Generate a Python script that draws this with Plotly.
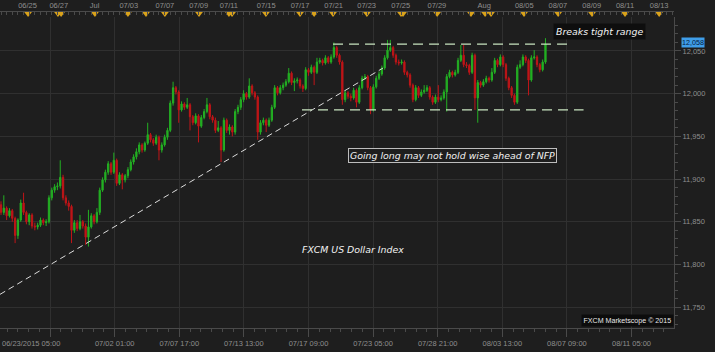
import plotly.graph_objects as go

# ---------------- data (4-hour candles, FXCM US Dollar Index) ----------------
first_open = 11870
closes = [11861, 11866, 11857, 11863, 11854, 11834, 11852, 11872, 11861, 11850,
          11858, 11845, 11844, 11846, 11852, 11849, 11850, 11878, 11887, 11891,
          11892, 11902, 11878, 11872, 11868, 11840, 11849, 11842, 11850, 11845,
          11832, 11844, 11857, 11850, 11861, 11887, 11899, 11908, 11918, 11908,
          11922, 11895, 11905, 11899, 11904, 11911, 11920, 11926, 11932, 11940,
          11934, 11942, 11952, 11946, 11942, 11949, 11934, 11940, 11949, 11957,
          11989, 12007, 12002, 11981, 11988, 11984, 11987, 11973, 11966, 11974,
          11962, 11972, 11979, 11987, 11973, 11969, 11957, 11960, 11934, 11969,
          11957, 11961, 11955, 11979, 11984, 11993, 12000, 11996, 12009, 12001,
          11996, 11955, 11966, 11969, 11963, 11969, 11984, 12007, 12001, 12007,
          12010, 12014, 12024, 12013, 12015, 12016, 12009, 12006, 12028, 12025,
          12031, 12025, 12037, 12039, 12036, 12042, 12037, 12043, 12054, 12045,
          12037, 11993, 12001, 11997, 11995, 12004, 11990, 12007, 12018, 12020,
          12007, 11981, 12008, 12018, 12023, 12030, 12042, 12051, 12054, 12045,
          12037, 12036, 12037, 12025, 12022, 12010, 11993, 12007, 11998, 12002,
          12004, 12007, 11996, 11990, 11996, 11993, 11995, 12002, 12020, 12025,
          12022, 12025, 12039, 12045, 12034, 12033, 12025, 12045, 11995, 12013,
          12010, 12014, 12018, 12016, 12025, 12039, 12034, 12043, 12034, 12018,
          12007, 11998, 11990, 12031, 12034, 12043, 12039, 12016, 12042, 12043,
          12034, 12028, 12037, 12058]
highs = [11874, 11881, 11868, 11866, 11865, 11856, 11854, 11876, 11884, 11863,
         11860, 11860, 11849, 11849, 11855, 11854, 11853, 11881, 11890, 11894,
         11896, 11922, 11905, 11881, 11875, 11870, 11852, 11852, 11858, 11852,
         11848, 11864, 11860, 11859, 11866, 11890, 11902, 11911, 11921, 11920,
         11931, 11924, 11908, 11907, 11906, 11914, 11923, 11929, 11936, 11943,
         11942, 11944, 11966, 11954, 11948, 11952, 11951, 11943, 11952, 11960,
         11992, 12014, 12009, 12004, 11991, 11990, 11995, 11989, 11975, 11977,
         11976, 11975, 11982, 11995, 11989, 11975, 11972, 11968, 11962, 11972,
         11971, 11964, 11963, 11982, 11987, 11996, 12004, 12002, 12018, 12011,
         12003, 11998, 11969, 11972, 11971, 11972, 11987, 12010, 12009, 12010,
         12013, 12017, 12030, 12026, 12018, 12019, 12018, 12011, 12031, 12030,
         12034, 12033, 12042, 12042, 12041, 12045, 12044, 12046, 12060, 12056,
         12047, 12039, 12004, 12003, 12000, 12007, 12006, 12010, 12021, 12023,
         12022, 12009, 12011, 12021, 12026, 12033, 12045, 12063, 12063, 12056,
         12047, 12040, 12040, 12039, 12027, 12024, 12012, 12010, 12009, 12005,
         12010, 12010, 12009, 11998, 11999, 12010, 11998, 12005, 12023, 12028,
         12027, 12028, 12042, 12057, 12057, 12037, 12035, 12048, 12047, 12016,
         12015, 12017, 12021, 12020, 12030, 12042, 12041, 12046, 12045, 12036,
         12020, 12009, 12000, 12034, 12039, 12046, 12045, 12041, 12045, 12051,
         12045, 12036, 12040, 12065]
lows = [11858, 11858, 11852, 11855, 11850, 11825, 11830, 11850, 11858, 11847,
        11846, 11842, 11840, 11841, 11844, 11846, 11845, 11848, 11875, 11884,
        11887, 11889, 11875, 11869, 11863, 11825, 11837, 11839, 11840, 11842,
        11823, 11821, 11842, 11847, 11848, 11858, 11885, 11896, 11905, 11905,
        11906, 11892, 11893, 11888, 11896, 11901, 11909, 11917, 11923, 11929,
        11931, 11932, 11940, 11943, 11939, 11940, 11922, 11931, 11938, 11946,
        11955, 11986, 11999, 11966, 11979, 11981, 11982, 11957, 11963, 11964,
        11943, 11960, 11970, 11977, 11970, 11966, 11954, 11955, 11920, 11932,
        11954, 11952, 11950, 11952, 11976, 11981, 11990, 11993, 11994, 11998,
        11993, 11946, 11952, 11963, 11955, 11961, 11967, 11982, 11998, 11999,
        12004, 12008, 12012, 12010, 12003, 12012, 12006, 12002, 12004, 12021,
        12023, 12010, 12023, 12035, 12033, 12034, 12035, 12035, 12041, 12042,
        12034, 11987, 11990, 11994, 11991, 11993, 11984, 11988, 12005, 12016,
        12004, 11976, 11979, 12006, 12016, 12021, 12028, 12040, 12049, 12042,
        12034, 12033, 12034, 12022, 12019, 12007, 11990, 11991, 11995, 11996,
        12000, 12002, 11993, 11987, 11988, 11990, 11991, 11993, 11979, 12018,
        12019, 12020, 12023, 12037, 12031, 12030, 12022, 12023, 11981, 11966,
        12007, 12008, 12012, 12013, 12014, 12023, 12031, 12032, 12031, 12015,
        12004, 11995, 11987, 11988, 12029, 12032, 12036, 11998, 12014, 12040,
        12031, 12025, 12026, 12035]
opens = [first_open] + closes[:-1]
bars = list(range(len(closes)))

y_tick_values = [11750, 11800, 11850, 11900, 11950, 12000, 12050]
bottom_tick_labels = ["", "07/02 01:00", "07/07 17:00", "07/13 13:00", "07/17 09:00",
                      "07/23 05:00", "07/28 21:00", "08/03 13:00", "08/07 09:00",
                      "08/11 05:00"]
first_bottom_label = "06/23/2015 05:00"
top_labels = ["06/25", "06/27", "Jul", "07/03", "07/07", "07/09", "07/11", "07/15",
              "07/17", "07/21", "07/23", "07/25", "07/29", "Aug", "08/05", "08/07",
              "08/09", "08/11", "08/13"]
top_label_bars = [9.4, 20.5, 33.2, 45.3, 58.1, 70.1, 80.8, 94.0, 106.0, 117.9,
                  129.6, 141.7, 154.5, 171.3, 185.5, 197.4, 209.4, 221.2, 233.3]
event_bars = [9.6, 20.2, 21.3, 33.3, 45.0, 51.4, 58.1, 70.2, 80.8, 81.9, 93.9,
              106.0, 111.0, 117.7, 129.7, 141.8, 142.5, 154.6, 166.6, 171.6,
              173.7, 185.4, 197.5, 209.5, 221.2, 233.3]
last_price = 12058
range_top = 12058
range_bottom = 11981
trend_start = (-0.354, 11765)
trend_end = (135.4, 12030)

# ---------------- figure ----------------
BG = "#1e1e1e"
GRID = "#303030"
AXC = "#4a4a4a"
TXT = "#8e8e8e"
W, H = 715, 352
ML, MR, MT, MB = 0, 41, 0, 24
plot_h = H - MT - MB          # 328
main_top_frac = (plot_h - 17) / plot_h
x_range = [-0.354, 238.56]

fig = go.Figure()
fig.add_trace(go.Candlestick(
    x=bars, open=opens, high=highs, low=lows, close=closes,
    increasing=dict(line=dict(color="#23b023", width=1), fillcolor="#23b023"),
    decreasing=dict(line=dict(color="#c01518", width=1), fillcolor="#c01518"),
    whiskerwidth=0, hoverinfo="skip", showlegend=False,
    xaxis="x", yaxis="y"))

fig.add_trace(go.Scatter(
    x=event_bars, y=[13.6] * len(event_bars), mode="markers",
    marker=dict(symbol="triangle-down", size=7, color="#d9a21b", line=dict(width=0)),
    xaxis="x2", yaxis="y2", hoverinfo="skip", showlegend=False, cliponaxis=False))

step = 22.9
bottom_positions = [17.4 + step * k for k in range(len(bottom_tick_labels))]

fig.update_layout(
    width=W, height=H, margin=dict(l=ML, r=MR, t=MT, b=MB),
    paper_bgcolor=BG, plot_bgcolor=BG, boxgap=0.35,
    font=dict(family="Liberation Sans, Arial, sans-serif", size=7.5, color=TXT),
    xaxis=dict(domain=[0, 1], range=x_range, anchor="y",
               rangeslider=dict(visible=False),
               tickmode="array", tickvals=bottom_positions, ticktext=bottom_tick_labels,
               showgrid=True, gridcolor=GRID, gridwidth=1, zeroline=False,
               showline=True, linecolor=AXC, linewidth=1,
               ticks="outside", ticklen=8, tickcolor=AXC,
               minor=dict(ticks="outside", ticklen=3, tickcolor=AXC, tickmode="linear",
                          tick0=17.4, dtick=step / 6, showgrid=False),
               tickfont=dict(size=7.5, color=TXT)),
    yaxis=dict(domain=[0, main_top_frac], range=[11725.6, 12089.8], side="right",
               anchor="x", tickmode="array", tickvals=y_tick_values, tickformat=",d",
               showgrid=True, gridcolor=GRID, zeroline=False,
               showline=True, linecolor=AXC, linewidth=1,
               ticks="outside", ticklen=6, tickcolor=AXC,
               minor=dict(ticks="outside", ticklen=3, tickcolor=AXC, dtick=10, showgrid=False),
               tickfont=dict(size=7.5, color=TXT)),
    xaxis2=dict(matches="x", anchor="free", position=(plot_h - 11) / plot_h, side="bottom",
                tickmode="array", tickvals=top_label_bars, ticktext=top_labels,
                ticklabelposition="inside", showgrid=False, zeroline=False,
                showline=True, linecolor=AXC, linewidth=1, ticks="",
                minor=dict(ticks="outside", ticklen=3, tickcolor=AXC, tickmode="linear",
                           tick0=0, dtick=2.0, showgrid=False),
                tickfont=dict(size=7.5, color=TXT)),
    yaxis2=dict(domain=[main_top_frac, 1], range=[17, 0], visible=False, anchor="x2"),
)

# trend / range lines
fig.add_shape(type="line", xref="x", yref="y", x0=trend_start[0], y0=trend_start[1],
              x1=trend_end[0], y1=trend_end[1], layer="above",
              line=dict(color="#dcdcdc", width=1, dash="6px,4px"))
fig.add_shape(type="line", xref="x", yref="y", x0=117.7, x1=202.4, y0=range_top, y1=range_top,
              layer="above", line=dict(color="#c7e3bf", width=1.3, dash="10px,6px"))
fig.add_shape(type="line", xref="x", yref="y", x0=106.7, x1=206.5, y0=range_bottom, y1=range_bottom,
              layer="above", line=dict(color="#c7e3bf", width=1.3, dash="10px,6px"))

ital = dict(family="DejaVu Sans, Verdana, sans-serif", size=9.4, color="#f2f2f2")
fig.add_annotation(xref="x", yref="y", x=195.8, y=12073, xanchor="left", yanchor="middle",
                   text="<i>Breaks tight range</i>", showarrow=False, font=ital,
                   bgcolor="#0e0e0e", borderpad=2)
fig.add_annotation(xref="x", yref="y", x=160.2, y=11928, xanchor="center", yanchor="middle",
                   text="<i>Going long may not hold wise ahead of NFP</i>", showarrow=False,
                   font=ital, bgcolor=BG, bordercolor="#bdbdbd", borderwidth=1, borderpad=1)
fig.add_annotation(xref="x", yref="y", x=124.6, y=11817, xanchor="center", yanchor="middle",
                   text="<i>FXCM US Dollar Index</i>", showarrow=False, font=ital)
fig.add_annotation(xref="paper", yref="paper", x=1, y=0.003, xanchor="right", yanchor="bottom",
                   text="FXCM Marketscope © 2015", showarrow=False,
                   font=dict(family="Liberation Sans, Arial, sans-serif", size=7.1, color="#e8e8e8"),
                   bgcolor="#0c0c0c", borderpad=1.5)
fig.add_annotation(xref="paper", yref="y", x=1, y=last_price, xanchor="left", yanchor="middle",
                   xshift=7, yshift=2, text=f"{last_price:,}", showarrow=False,
                   font=dict(family="Liberation Sans, Arial, sans-serif", size=7.2, color="#061a3c"),
                   bgcolor="#3f9ee9", borderpad=0)
fig.add_annotation(xref="paper", yref="paper", x=0, y=0, xanchor="left", yanchor="top",
                   yshift=-9, text=first_bottom_label, showarrow=False,
                   font=dict(family="Liberation Sans, Arial, sans-serif", size=7.5, color=TXT))

fig.write_html("out.html", config={"displayModeBar": False})
